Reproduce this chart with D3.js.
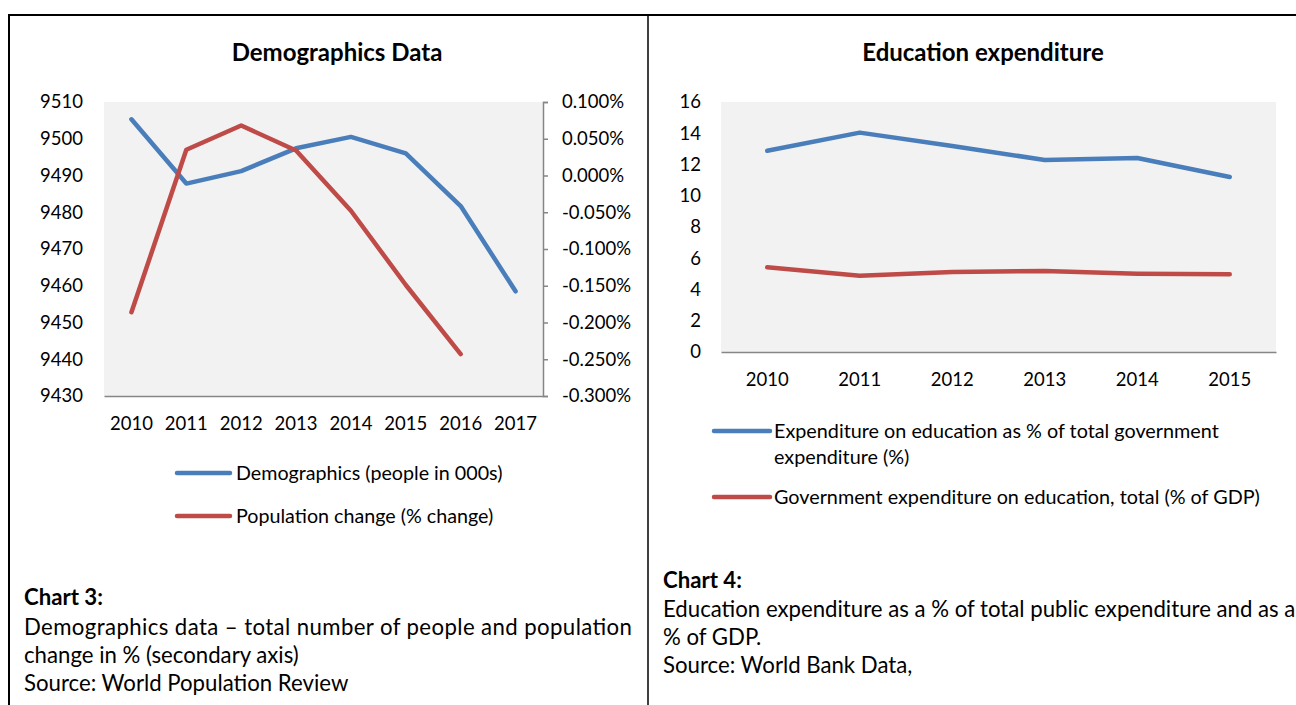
<!DOCTYPE html>
<html>
<head>
<meta charset="utf-8">
<script src="https://cdn.jsdelivr.net/npm/d3@7/dist/d3.min.js"></script>
<style>
    body { margin: 0; background: white; }
    text { font-family: Lato, "Open Sans", sans-serif; fill: #000; }
</style>
</head>
<body>
<div class="canvas"></div>
<script>
var width = 1296;
var height = 705;

// chart 3 - demographics
var demoYears = ["2010", "2011", "2012", "2013", "2014", "2015", "2016", "2017"];
var demoPeople = [9505.3, 9487.8, 9491.2, 9497.4, 9500.5, 9496.0, 9481.7, 9458.5];
var popChange = [-0.186, 0.035, 0.068, 0.034, -0.048, -0.149, -0.243, null];
var demoLeftTicks = [9430, 9440, 9450, 9460, 9470, 9480, 9490, 9500, 9510];
var demoRightTicks = [-0.3, -0.25, -0.2, -0.15, -0.1, -0.05, 0, 0.05, 0.1];

// chart 4 - education
var eduYears = ["2010", "2011", "2012", "2013", "2014", "2015"];
var eduShareGov = [12.88, 14.04, 13.18, 12.29, 12.42, 11.2];
var eduShareGdp = [5.42, 4.88, 5.12, 5.18, 5.01, 4.97];
var eduTicks = [0, 2, 4, 6, 8, 10, 12, 14, 16];

var blue = "#4A7EBB";
var red = "#BE4B48";
var axisGray = "#868686";

var svg = d3.select(".canvas").append("svg")
    .attr("width", width)
    .attr("height", height)
    .style("display", "block")
    .style("background", "white");

// table borders
svg.append("line").attr("x1", 8).attr("x2", width).attr("y1", 15).attr("y2", 15)
    .attr("stroke", "#000").attr("stroke-width", 2);
svg.append("line").attr("x1", 9).attr("x2", 9).attr("y1", 14).attr("y2", height)
    .attr("stroke", "#000").attr("stroke-width", 2);
svg.append("line").attr("x1", 648).attr("x2", 648).attr("y1", 14).attr("y2", height)
    .attr("stroke", "#000").attr("stroke-width", 1.5);

function styleAxis(g) {
    g.selectAll("text").style("font-family", "Lato, sans-serif").style("font-size", "18.5px").attr("fill", "#000");
    g.selectAll("line").attr("stroke", axisGray).attr("stroke-width", 1.5);
    g.selectAll("path.domain").attr("stroke", axisGray).attr("stroke-width", 1.5);
}

// ---------- chart 3 ----------
var x3 = d3.scaleBand().domain(demoYears).range([104, 543]);
var yL = d3.scaleLinear().domain([9430, 9510]).range([396, 102]);
var yR = d3.scaleLinear().domain([-0.3, 0.1]).range([396, 102]);
var g3 = svg.append("g");

g3.append("rect")
    .attr("x", x3.range()[0]).attr("y", yL.range()[1])
    .attr("width", x3.range()[1] - x3.range()[0]).attr("height", yL.range()[0] - yL.range()[1])
    .attr("fill", "#F2F2F2");

g3.append("text").attr("x", 337).attr("y", 53).attr("dy", "0.35em")
    .attr("text-anchor", "middle").style("font-size", "24px").style("font-weight", "bold")
    .text("Demographics Data");

var leftAx = g3.append("g").attr("transform", "translate(104,0)")
    .call(d3.axisLeft(yL).tickValues(demoLeftTicks).tickSize(0).tickPadding(21).tickFormat(d3.format("d")));
leftAx.select(".domain").remove();
styleAxis(leftAx);

var rightAx = g3.append("g").attr("transform", "translate(543,0)")
    .call(d3.axisRight(yR).tickValues(demoRightTicks).tickSize(5).tickPadding(14)
        .tickFormat(d => d.toFixed(3) + "%"));
styleAxis(rightAx);

var bottomAx3 = g3.append("g").attr("transform", "translate(0,396)")
    .call(d3.axisBottom(x3).tickSize(0).tickPadding(21));
styleAxis(bottomAx3);

var cx3 = d => x3(d) + x3.bandwidth() / 2;

var linePeople = d3.line()
    .x((d, i) => cx3(demoYears[i]))
    .y(d => yL(d));
var lineChange = d3.line()
    .defined(d => d !== null)
    .x((d, i) => cx3(demoYears[i]))
    .y(d => yR(d));

g3.append("path").attr("d", linePeople(demoPeople))
    .attr("fill", "none").attr("stroke", blue).attr("stroke-width", 4.5)
    .attr("stroke-linecap", "round").attr("stroke-linejoin", "round");
g3.append("path").attr("d", lineChange(popChange))
    .attr("fill", "none").attr("stroke", red).attr("stroke-width", 4.5)
    .attr("stroke-linecap", "round").attr("stroke-linejoin", "round");

var legend3 = [
    { label: "Demographics (people in 000s)", color: blue, y: 473 },
    { label: "Population change (% change)", color: red, y: 516 }
];
legend3.forEach(l => {
    g3.append("line").attr("x1", 177).attr("x2", 230).attr("y1", l.y).attr("y2", l.y)
        .attr("stroke", l.color).attr("stroke-width", 4.5).attr("stroke-linecap", "round");
    g3.append("text").attr("x", 236).attr("y", l.y).attr("dy", "0.35em")
        .style("font-size", "19.7px").text(l.label);
});

// ---------- chart 4 ----------
var x4 = d3.scaleBand().domain(eduYears).range([721, 1276]);
var y4 = d3.scaleLinear().domain([0, 16]).range([352, 102]);
var g4 = svg.append("g");

g4.append("rect")
    .attr("x", x4.range()[0]).attr("y", y4.range()[1])
    .attr("width", x4.range()[1] - x4.range()[0]).attr("height", y4.range()[0] - y4.range()[1])
    .attr("fill", "#F2F2F2");

g4.append("text").attr("x", 983).attr("y", 53).attr("dy", "0.35em")
    .attr("text-anchor", "middle").style("font-size", "24px").style("font-weight", "bold")
    .text("Education expenditure");

var leftAx4 = g4.append("g").attr("transform", "translate(721,0)")
    .call(d3.axisLeft(y4).tickValues(eduTicks).tickSize(0).tickPadding(20));
leftAx4.select(".domain").remove();
styleAxis(leftAx4);

var bottomAx4 = g4.append("g").attr("transform", "translate(0,352)")
    .call(d3.axisBottom(x4).tickSize(0).tickPadding(21));
styleAxis(bottomAx4);

var cx4 = d => x4(d) + x4.bandwidth() / 2;
var line4 = d3.line()
    .x((d, i) => cx4(eduYears[i]))
    .y(d => y4(d));

g4.append("path").attr("d", line4(eduShareGov))
    .attr("fill", "none").attr("stroke", blue).attr("stroke-width", 4.5)
    .attr("stroke-linecap", "round").attr("stroke-linejoin", "round");
g4.append("path").attr("d", line4(eduShareGdp))
    .attr("fill", "none").attr("stroke", red).attr("stroke-width", 4.5)
    .attr("stroke-linecap", "round").attr("stroke-linejoin", "round");

var legend4 = [
    { label: ["Expenditure on education as % of total government", "expenditure (%)"], color: blue, y: 431 },
    { label: ["Government expenditure on education, total (% of GDP)"], color: red, y: 497 }
];
legend4.forEach(l => {
    g4.append("line").attr("x1", 714).attr("x2", 770).attr("y1", l.y).attr("y2", l.y)
        .attr("stroke", l.color).attr("stroke-width", 4.5).attr("stroke-linecap", "round");
    l.label.forEach((t, j) => {
        g4.append("text").attr("x", 774).attr("y", l.y + j * 26).attr("dy", "0.35em")
            .style("font-size", "19.8px").text(t);
    });
});

// ---------- captions ----------
var cap3 = [
    { t: "Chart 3:", y: 597, bold: true },
    { t: "Demographics data \u2013 total number of people and population", y: 627, fit: 608 },
    { t: "change in % (secondary axis)", y: 655 },
    { t: "Source: World Population Review", y: 683 }
];
var cap4 = [
    { t: "Chart 4:", y: 580, bold: true },
    { t: "Education expenditure as a % of total public expenditure and as a", y: 609 },
    { t: "% of GDP.", y: 637 },
    { t: "Source: World Bank Data,", y: 665 }
];
function caption(lines, x) {
    lines.forEach(c => {
        var t = svg.append("text").attr("x", x).attr("y", c.y).attr("dy", "0.35em")
            .style("font-size", "22.2px").style("font-weight", c.bold ? "bold" : "normal")
            .text(c.t);
        if (c.fit) t.attr("textLength", c.fit).attr("lengthAdjust", "spacing");
    });
}
caption(cap3, 24);
caption(cap4, 663);
</script>
</body>
</html>
